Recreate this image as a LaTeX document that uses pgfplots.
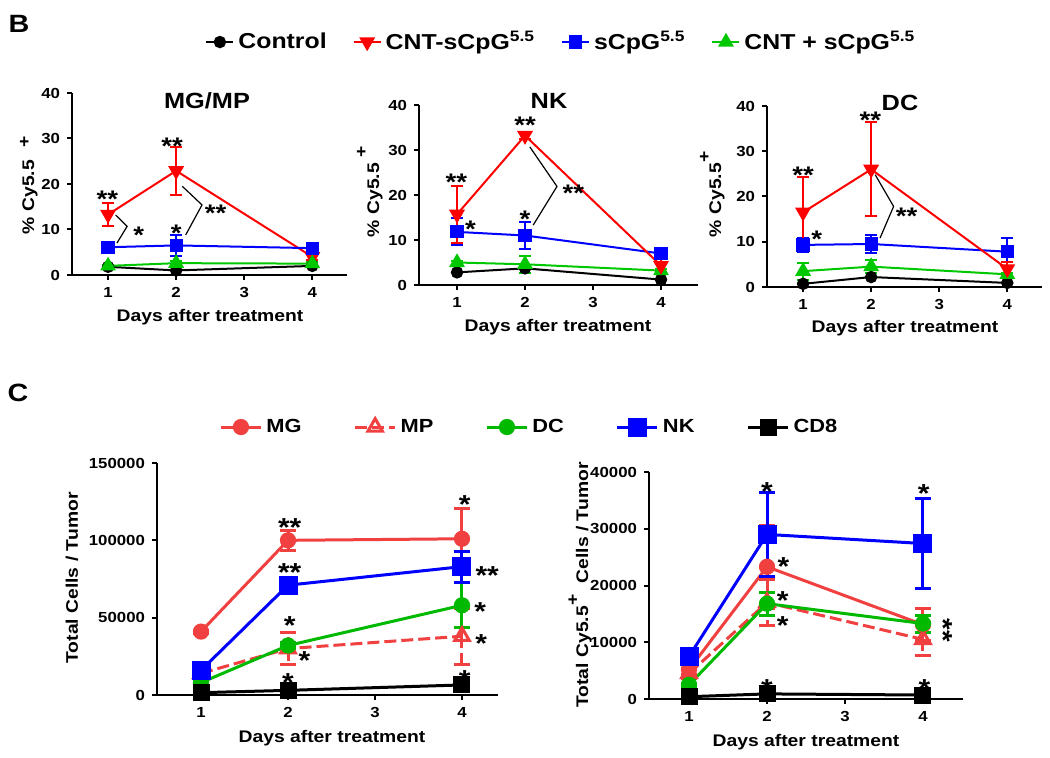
\documentclass[border=0pt]{standalone}
\usepackage{fontspec}
\setmainfont[FakeStretch=1.15]{Liberation Sans}
\usepackage{pgfplots}
\pgfplotsset{compat=1.18}
\definecolor{cred}{RGB}{255,0,0}
\definecolor{cblue}{RGB}{0,0,255}
\definecolor{cgreen}{RGB}{0,200,0}
\definecolor{lred}{RGB}{240,64,64}
\definecolor{lgreen}{RGB}{0,185,0}
\tikzset{
 ast/.style={font=\bfseries\fontsize{12}{12}\selectfont, inner sep=0pt, anchor=base, yshift=-6.8pt},
 astb/.style={font=\bfseries\fontsize{13}{13}\selectfont, inner sep=0pt, anchor=base, yshift=-7.4pt},
 lab/.style={font=\bfseries\fontsize{8.4}{9}\selectfont, inner sep=0pt},
 ttl/.style={font=\bfseries\fontsize{11}{12}\selectfont, inner sep=0pt},
}
\pgfplotsset{
 gp/.style={
  scale only axis, clip=false,
  axis x line=bottom, axis y line=left,
  axis line style={-, line width=1pt, black},
  tick align=outside, major tick length=2.5pt,
  every tick/.style={black, line width=1pt},
  xtick={1,2,3,4},
  tick label style={font=\bfseries\fontsize{7.3}{8}\selectfont},
  /pgf/number format/assume math mode=true,
  scaled y ticks=false,
  yticklabel style={/pgf/number format/fixed, /pgf/number format/1000 sep={}},
  ymin=0,
 },
 ebt/.style={error bars/.cd, y dir=both, y explicit, error bar style={line width=1pt}, error mark options={rotate=90, mark size=3pt, line width=1pt}},
 ebb/.style={error bars/.cd, y dir=both, y explicit, error bar style={line width=1.5pt}, error mark options={rotate=90, mark size=4pt, line width=1.5pt}},
 ctrl/.style={black, line width=1pt, mark=*, mark size=2.6pt},
 cnt/.style={cred, line width=1pt, mark=triangle*, mark size=3.6pt, mark options={rotate=180}},
 scpg/.style={cblue, line width=1pt, mark=square*, mark size=2.8pt},
 mix/.style={cgreen, line width=1pt, mark=triangle*, mark size=3.6pt},
 mg/.style={lred, line width=1.5pt, mark=*, mark size=3.3pt},
 mp/.style={lred, line width=1.5pt, dash pattern=on 6pt off 2.5pt, mark=triangle, mark size=4.2pt, mark options={solid, fill=white}},
 dc/.style={lgreen, line width=1.5pt, mark=*, mark size=3.3pt},
 nk/.style={cblue, line width=1.5pt, mark=square*, mark size=4pt},
 cd8/.style={black, line width=1.5pt, mark=square*, mark size=3.5pt},
}
\begin{document}
\begin{tikzpicture}
\path[use as bounding box] (0,0) rectangle (525pt,-379pt);

% ---------- B1: MG/MP ----------
\begin{axis}[gp, at={(36pt,-137.5pt)}, anchor=south west,
  width=137.5pt, height=91pt, xmin=0.47, xmax=4.51, ymax=40, ytick={0,10,20,30,40},
  legend columns=4,
  legend style={at={(0.4836,1.28)}, anchor=west, draw=none, fill=none, inner sep=0pt,
    font=\bfseries\fontsize{10.8}{12}\selectfont,
    /tikz/every even column/.append style={column sep=11pt}},
  legend image code/.code={\draw[mark repeat=2,mark phase=2] plot coordinates {(0pt,0pt) (6.75pt,0pt) (13.5pt,0pt)};}]
\addplot[ctrl] coordinates {(1,1.8) (2,1.0) (4,2.0)};
\addplot[cnt, ebt] coordinates {(1,13.3) +- (0,2.5) (2,22.9) +- (0,5.3) (4,4.0) +- (0,0.6)};
\addplot[scpg, ebt] coordinates {(1,6.1) +- (0,0.4) (2,6.5) +- (0,2.4) (4,5.9) +- (0,0.4)};
\addplot[mix, ebt] coordinates {(1,2.0) +- (0,0.3) (2,2.6) +- (0,0.5) (4,2.5) +- (0,0.3)};
\legend{Control, CNT-sCpG\textsuperscript{5.5}, sCpG\textsuperscript{5.5}, CNT + sCpG\textsuperscript{5.5}}
\node[ast] at (axis cs:0.99,17.9) {**};
\node[ast] at (axis cs:1.94,29.4) {**};
\node[ast] at (axis cs:2.0,10.3) {*};
\node[ast] at (axis cs:1.45,9.9) {*};
\node[ast] at (axis cs:2.58,14.7) {**};
\draw[black, line width=0.6pt] (axis cs:1.11,13.2) -- (axis cs:1.28,10.7) -- (axis cs:1.13,7.0);
\draw[black, line width=0.6pt] (axis cs:2.09,19.5) -- (axis cs:2.38,15.4) -- (axis cs:2.14,8.8);
\end{axis}

% ---------- B2: NK ----------
\begin{axis}[gp, at={(209.5pt,-142.5pt)}, anchor=south west,
  width=139.5pt, height=90pt, xmin=0.441, xmax=4.544, ymax=40, ytick={0,10,20,30,40}]
\addplot[ctrl] coordinates {(1,2.8) (2,3.7) (4,1.2)};
\addplot[mix, ebt] coordinates {(1,5.0) +- (0,0.4) (2,4.6) +- (0,1.9) (4,3.2) +- (0,0.4)};
\addplot[scpg, ebt] coordinates {(1,11.8) +- (0,3.0) (2,11.0) +- (0,3.0) (4,7.0) +- (0,0.5)};
\addplot[cnt, ebt] coordinates {(1,15.7) +- (0,6.3) (2,33.2) +- (0,0.8) (4,4.3) +- (0,1.5)};
\node[ast] at (axis cs:0.99,24.1) {**};
\node[ast] at (axis cs:1.2,13.6) {*};
\node[ast] at (axis cs:2.0,36.7) {**};
\node[ast] at (axis cs:2.0,15.9) {*};
\node[ast] at (axis cs:2.71,21.5) {**};
\draw[black, line width=0.6pt] (axis cs:2.07,30.7) -- (axis cs:2.47,21.9) -- (axis cs:2.12,13.3);
\end{axis}

% ---------- B3: DC ----------
\begin{axis}[gp, at={(383.5pt,-143.5pt)}, anchor=south west,
  width=137.5pt, height=90.5pt, xmin=0.47, xmax=4.51, ymax=40, ytick={0,10,20,30,40}]
\addplot[ctrl] coordinates {(1,0.7) (2,2.2) (4,0.9)};
\addplot[mix, ebt] coordinates {(1,3.5) +- (0,1.9) (2,4.5) +- (0,1.5) (4,2.8) +- (0,0.4)};
\addplot[scpg, ebt] coordinates {(1,9.3) +- (0,1.6) (2,9.5) +- (0,2.0) (4,7.8) +- (0,3.1)};
\addplot[cnt, ebt] coordinates {(1,16.5) +- (0,7.8) (2,26.0) +- (0,10.4) (4,4.0) +- (0,1.5)};
\node[ast] at (axis cs:1.0,25.9) {**};
\node[ast] at (axis cs:1.2,11.8) {*};
\node[ast] at (axis cs:1.99,38.0) {**};
\node[ast] at (axis cs:2.52,16.9) {**};
\draw[black, line width=0.6pt] (axis cs:2.06,24.8) -- (axis cs:2.33,17.8) -- (axis cs:2.13,10.8);
\end{axis}

% ---------- C1 ----------
\begin{axis}[gp, at={(78.5pt,-347.5pt)}, anchor=south west,
  width=170.5pt, height=116pt, xmin=0.494, xmax=4.414, ymax=150000, ytick={0,50000,100000,150000},
  legend columns=5,
  legend style={at={(0.182,1.155)}, anchor=west, draw=none, fill=none, inner sep=0pt,
    font=\bfseries\fontsize{9.5}{10}\selectfont,
    /tikz/every even column/.append style={column sep=24pt}},
  legend image code/.code={\draw[mark repeat=2,mark phase=2] plot coordinates {(0pt,0pt) (10pt,0pt) (20pt,0pt)};}]
\addplot[mg, ebb] coordinates {(1,41000) +- (0,1000) (2,100000) +- (0,6500) (4,101000) +- (0,19800)};
\addplot[mp, ebb] coordinates {(1,14000) +- (0,2000) (2,30000) +- (0,10500) (4,38000) +- (0,18000)};
\addplot[dc, ebb] coordinates {(1,8000) +- (0,800) (2,32000) +- (0,2000) (4,58000) +- (0,14600)};
\addplot[nk, ebb] coordinates {(1,16000) +- (0,1000) (2,71000) +- (0,4000) (4,83000) +- (0,10100)};
\addplot[cd8] coordinates {(1,1500) (2,3000) (4,6500)};
\legend{MG, MP, DC, NK, CD8}
\node[astb] at (axis cs:2.02,111900) {**};
\node[astb] at (axis cs:2.02,82800) {**};
\node[astb] at (axis cs:2.02,48400) {*};
\node[astb] at (axis cs:2.19,25800) {*};
\node[astb] at (axis cs:2.0,11800) {*};
\node[astb] at (axis cs:4.03,127000) {*};
\node[astb] at (axis cs:4.29,81100) {**};
\node[astb] at (axis cs:4.21,57700) {*};
\node[astb] at (axis cs:4.22,37200) {*};
\node[astb] at (axis cs:4.03,14000) {*};
\end{axis}

% ---------- C2 ----------
\begin{axis}[gp, at={(324.5pt,-349.5pt)}, anchor=south west,
  width=157pt, height=113.5pt, xmin=0.487, xmax=4.513, ymax=40000, ytick={0,10000,20000,30000,40000}]
\addplot[mp, ebb] coordinates {(1,4500) +- (0,800) (2,17000) +- (0,4000) (4,10500) +- (0,2900)};
\addplot[mg, ebb] coordinates {(1,5200) +- (0,800) (2,23300) +- (0,7300) (4,13100) +- (0,2800)};
\addplot[dc, ebb] coordinates {(1,2500) +- (0,300) (2,16800) +- (0,2000) (4,13300) +- (0,1500)};
\addplot[nk, ebb] coordinates {(1,7500) +- (0,700) (2,29000) +- (0,7400) (4,27400) +- (0,8000)};
\addplot[cd8] coordinates {(1,400) (2,900) (4,700)};
\node[astb] at (axis cs:2.0,37500) {*};
\node[astb] at (axis cs:2.21,24300) {*};
\node[astb] at (axis cs:2.2,18400) {*};
\node[astb] at (axis cs:2.2,13900) {*};
\node[astb] at (axis cs:2.0,2800) {*};
\node[astb] at (axis cs:4.01,37200) {*};
\node[font=\bfseries\fontsize{13}{13}\selectfont, inner sep=0pt, rotate=-90] at (axis cs:4.26,12050) {**};
\node[astb] at (axis cs:4.02,2800) {*};
\end{axis}

% ---------- labels ----------
\node[font=\bfseries\fontsize{12.5}{13}\selectfont, inner sep=0pt] at (9.5pt,-12pt) {B};
\node[font=\bfseries\fontsize{12.5}{13}\selectfont, inner sep=0pt] at (9pt,-196.5pt) {C};
\node[ttl] at (103.5pt,-50.5pt) {MG/MP};
\node[ttl] at (274.5pt,-50.5pt) {NK};
\node[ttl] at (450pt,-51.5pt) {DC};
\node[lab, rotate=90] at (15pt,-98.5pt) {\% Cy5.5};
\node[lab, rotate=90] at (12.5pt,-71pt) {+};
\node[lab, rotate=90] at (187.5pt,-100pt) {\% Cy5.5};
\node[lab, rotate=90] at (181pt,-76pt) {+};
\node[lab, rotate=90] at (358.5pt,-100pt) {\% Cy5.5};
\node[lab, rotate=90] at (352.5pt,-78.5pt) {+};
\node[lab] at (105pt,-158.5pt) {Days after treatment};
\node[lab] at (279pt,-163.5pt) {Days after treatment};
\node[lab] at (452.5pt,-164pt) {Days after treatment};
\node[lab] at (166pt,-369pt) {Days after treatment};
\node[lab] at (403pt,-371pt) {Days after treatment};
\node[lab, rotate=90] at (36pt,-289pt) {Total Cells / Tumor};
\node[lab, rotate=90] at (290pt,-292.5pt) {Total Cy5.5\raisebox{1.1ex}{+}\hspace{3pt} Cells / Tumor};
\end{tikzpicture}
\end{document}
